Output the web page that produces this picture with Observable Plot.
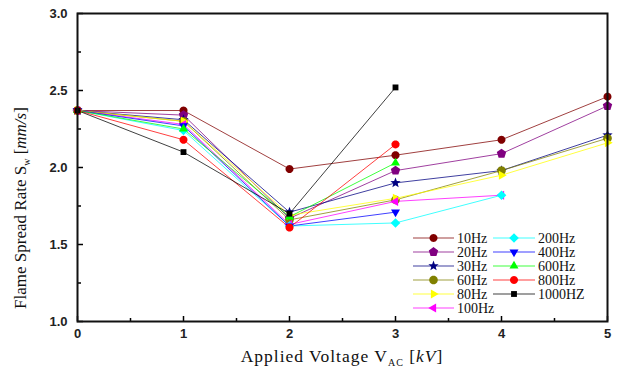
<!DOCTYPE html>
<html><head><meta charset="utf-8">
<script src="https://cdn.jsdelivr.net/npm/d3@7"></script>
<script src="https://cdn.jsdelivr.net/npm/@observablehq/plot@0.6"></script>
<style>body{margin:0;background:#fff}</style>
</head><body><div id="chart"></div>
<script>
const voltages = [0, 1, 2, 3, 4, 5];
const seriesNames = ["10Hz","20Hz","30Hz","60Hz","80Hz","100Hz","200Hz","400Hz","600Hz","800Hz","1000HZ"];
const hz10   = [2.37, 2.37, 1.99, 2.08, 2.18, 2.46];
const hz20   = [2.37, 2.34, 1.67, 1.98, 2.09, 2.40];
const hz30   = [2.37, 2.31, 1.71, 1.90, 1.98, 2.21];
const hz60   = [2.37, 2.30, 1.66, 1.79, 1.98, 2.19];
const hz80   = [2.37, 2.30, 1.69, 1.80, 1.95, 2.16];
const hz100  = [2.37, 2.28, 1.63, 1.78, 1.82];
const hz200  = [2.37, 2.24, 1.62, 1.64, 1.82];
const hz400  = [2.37, 2.27, 1.62, 1.71];
const hz600  = [2.37, 2.25, 1.68, 2.03];
const hz800  = [2.37, 2.18, 1.61, 2.15];
const hz1000 = [2.37, 2.10, 1.70, 2.52];
const seriesValues = [hz10, hz20, hz30, hz60, hz80, hz100, hz200, hz400, hz600, hz800, hz1000];
const xMajorTicks = [0, 1, 2, 3, 4, 5];
const xMinorTicks = [0.5, 1.5, 2.5, 3.5, 4.5];
const yMajorTicks = [1.0, 1.5, 2.0, 2.5, 3.0];
const yMinorTicks = [1.25, 1.75, 2.25, 2.75];

// custom marker shapes
function poly(n, rot, scale) {
  return {draw(ctx, size) {
    const r = Math.sqrt(size / Math.PI) * scale;
    for (let i = 0; i < n; i++) {
      const a = rot + i * 2 * Math.PI / n;
      const x = r * Math.cos(a), y = r * Math.sin(a);
      if (i === 0) ctx.moveTo(x, y); else ctx.lineTo(x, y);
    }
    ctx.closePath();
  }};
}
const symCircle = poly(24, 0, 1);
const symPentagon = poly(5, -Math.PI / 2, 1.15);
const symTriUp = poly(3, -Math.PI / 2, 1.3);
const symTriDown = poly(3, Math.PI / 2, 1.3);
const symTriRight = poly(3, 0, 1.3);
const symTriLeft = poly(3, Math.PI, 1.3);
const symDiamond = poly(4, -Math.PI / 2, 1.2);
const symSquare = poly(4, Math.PI / 4, 1.15);
const symStar = {draw(ctx, size) {
  const R = Math.sqrt(size / Math.PI) * 1.35, r = R * 0.42;
  for (let i = 0; i < 10; i++) {
    const a = -Math.PI / 2 + i * Math.PI / 5, rr = i % 2 ? r : R;
    const x = rr * Math.cos(a), y = rr * Math.sin(a);
    if (i === 0) ctx.moveTo(x, y); else ctx.lineTo(x, y);
  }
  ctx.closePath();
}};

const seriesColors = ["#800000","#800080","#000080","#808000","#ffff00","#ff00ff","#00ffff","#0000ff","#00ff00","#ff0000","#000000"];
const seriesSymbols = [symCircle, symPentagon, symStar, symCircle, symTriRight, symTriLeft, symDiamond, symTriDown, symTriUp, symCircle, symSquare];
const seriesR = [4, 4.3, 4, 4.3, 4, 4, 4, 4, 4, 4, 3.6];

const series = seriesNames.map((name, i) => ({
  name, color: seriesColors[i], symbol: seriesSymbols[i], r: seriesR[i],
  data: seriesValues[i].map((v, j) => ({x: voltages[j], y: v}))
}));

const axisFont = {fontFamily: "Liberation Sans, Arial, sans-serif", fontWeight: "bold", fontSize: 13, fill: "#222"};

const marks = [];
for (const s of series) {
  marks.push(Plot.line(s.data, {x: "x", y: "y", stroke: s.color, strokeWidth: 1, strokeOpacity: 0.75}));
}
for (const s of series) {
  marks.push(Plot.dot(s.data, {x: "x", y: "y", fill: s.color, stroke: "none", symbol: s.symbol, r: s.r}));
}

const chart = Plot.plot({
  width: 619, height: 368,
  marginLeft: 77, marginRight: 12, marginTop: 13, marginBottom: 47,
  style: {background: "#fff", overflow: "visible"},
  x: {domain: [0, 5], label: null},
  y: {domain: [1, 3], label: null},
  marks: [
    ...marks,
    Plot.axisX({ticks: xMajorTicks, tickSize: 0, tickPadding: 7, tickFormat: d => String(d), ...axisFont, label: null}),
    Plot.axisX({ticks: xMajorTicks, tickSize: -5, tickFormat: () => "", label: null, stroke: "#000", strokeWidth: 1.5}),
    Plot.axisX({ticks: xMinorTicks, tickSize: -3, tickFormat: () => "", label: null, stroke: "#000", strokeWidth: 1.5}),
    Plot.axisY({ticks: yMajorTicks, tickSize: 0, tickPadding: 10, tickFormat: d3.format(".1f"), ...axisFont, label: null}),
    Plot.axisY({ticks: yMajorTicks, tickSize: -6, tickFormat: () => "", label: null, stroke: "#000", strokeWidth: 1.5}),
    Plot.axisY({ticks: yMinorTicks, tickSize: -4, tickFormat: () => "", label: null, stroke: "#000", strokeWidth: 1.5}),
    Plot.frame({stroke: "#111", strokeWidth: 2})
  ]
});
document.getElementById("chart").appendChild(chart);

const svg = d3.select(chart);
const serif = "Liberation Serif, Times New Roman, serif";
// axis titles
const xt = svg.append("text").attr("x", 342).attr("y", 362).attr("text-anchor", "middle")
  .style("font-family", serif).style("font-size", "17.5px").style("fill", "#111")
  .style("letter-spacing", "1px");
xt.append("tspan").text("Applied Voltage V");
xt.append("tspan").attr("dy", 4).style("font-size", "10px").text("AC");
xt.append("tspan").attr("dy", -4).text(" [");
xt.append("tspan").style("font-style", "italic").text("kV");
xt.append("tspan").text("]");

const yt = svg.append("text").attr("transform", "translate(26,208) rotate(-90)").attr("text-anchor", "middle")
  .style("font-family", serif).style("font-size", "17px").style("fill", "#111");
yt.append("tspan").text("Flame Spread Rate S");
yt.append("tspan").attr("dy", 4).style("font-size", "10px").text("w");
yt.append("tspan").attr("dy", -4).text(" [");
yt.append("tspan").style("font-style", "italic").text("mm/s");
yt.append("tspan").text("]");

// legend
const legendCols = [{x0: 413, x1: 454, tx: 457}, {x0: 493, x1: 535, tx: 538}];
const legendRowY = [238, 252, 266, 280, 294, 308];
const leg = svg.append("g").attr("text-anchor", "start");
series.forEach((s, i) => {
  const col = legendCols[i < 6 ? 0 : 1];
  const y = legendRowY[i < 6 ? i : i - 6];
  leg.append("line").attr("x1", col.x0).attr("x2", col.x1).attr("y1", y).attr("y2", y)
    .attr("stroke", s.color).attr("stroke-width", 1.2).attr("stroke-opacity", 0.75);
  const p = d3.path();
  s.symbol.draw(p, Math.PI * s.r * s.r);
  leg.append("path").attr("d", p.toString())
    .attr("transform", `translate(${(col.x0 + col.x1) / 2},${y})`).attr("fill", s.color);
  leg.append("text").attr("x", col.tx).attr("y", y).attr("dy", "0.35em").attr("text-anchor", "start")
    .style("font-family", serif).style("font-size", "14px").style("fill", "#111")
    .text(s.name);
});
</script>
</body></html>
